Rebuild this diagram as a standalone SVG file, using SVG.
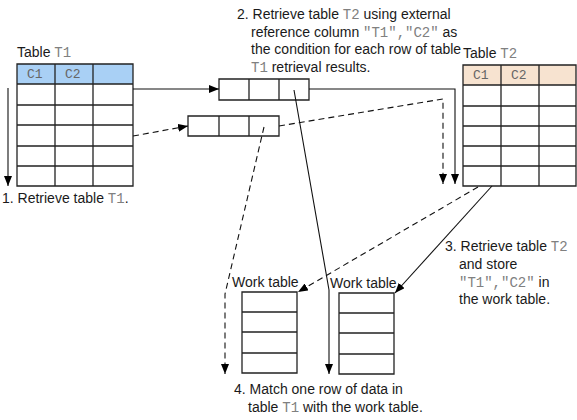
<svg xmlns="http://www.w3.org/2000/svg" width="577" height="420" viewBox="0 0 577 420">
<style>
text{font-family:"Liberation Sans",Arial,sans-serif;font-size:14px;fill:#1a1a1a}
.m{font-family:"Liberation Mono","Courier New",monospace;fill:#808080}
.h{font-family:"Liberation Mono","Courier New",monospace;font-size:13px;fill:#666}
.g{fill:none;stroke:#222;stroke-width:1.3}
.c{fill:none;stroke:#111;stroke-width:1.1}
.d{stroke-dasharray:6,4}
</style>
<defs>
<marker id="a" viewBox="0 0 10 10" refX="10" refY="5" markerWidth="10" markerHeight="8" markerUnits="userSpaceOnUse" orient="auto" preserveAspectRatio="none"><path d="M0,0L10,5L0,10z" fill="#000"/></marker>
</defs>
<g id="t1">
<text x="17" y="57">Table <tspan class="m">T1</tspan></text>
<rect x="17" y="64" width="116" height="20" fill="#a9d0f5"/>
<text class="h" x="27" y="78">C1</text><text class="h" x="65" y="78">C2</text>
<path class="g" d="M17,64H133V186H17Z M17,84H133 M17,105H133 M17,125H133 M17,146H133 M17,166H133 M55,64V186 M93,64V186"/>
</g>
<g id="t2">
<text x="463" y="58">Table <tspan class="m">T2</tspan></text>
<rect x="463" y="65" width="113" height="20" fill="#f7e3d0"/>
<text class="h" x="473" y="79">C1</text><text class="h" x="511" y="79">C2</text>
<path class="g" d="M463,65H576V186H463Z M463,85H576 M463,106H576 M463,126H576 M463,146H576 M463,166H576 M501,65V186 M539,65V186"/>
</g>
<g id="row1">
<path class="g" d="M219,79H309V100H219Z M249,79V100 M279,79V100"/>
</g>
<g id="row2">
<path class="g" d="M188,116H279V136H188Z M219,116V136 M249,116V136"/>
</g>
<g id="work1">
<text x="232" y="287">Work table</text>
<path class="g" d="M242,292H297V373H242Z M242,312H297 M242,332H297 M242,353H297"/>
</g>
<g id="work2">
<text x="330" y="288">Work table</text>
<path class="g" d="M339,293H394V374H339Z M339,313H394 M339,333H394 M339,354H394"/>
</g>
<g id="connectors">
<path class="c" d="M8,88V186" marker-end="url(#a)"/>
<path class="c" d="M133,89H219" marker-end="url(#a)"/>
<path class="c d" d="M133,136L188,126" marker-end="url(#a)"/>
<path class="c" d="M309,89H455V184" marker-end="url(#a)"/>
<path class="c d" d="M279,126L443,99V184" marker-end="url(#a)"/>
<path class="c" d="M294,90L329,290V374" marker-end="url(#a)"/>
<path class="c d" d="M264,127L225,294V374" marker-end="url(#a)"/>
<path class="c d" d="M478,187L298,292" marker-end="url(#a)"/>
<path class="c" d="M492,186L395,293" marker-end="url(#a)"/>
</g>
<g id="labels">
<text x="2" y="203">1. Retrieve table <tspan class="m">T1</tspan>.</text>
<text x="237" y="19">2. Retrieve table <tspan class="m">T2</tspan> using external</text>
<text x="251" y="36.5">reference column <tspan class="m">"T1","C2"</tspan> as</text>
<text x="251" y="54">the condition for each row of table</text>
<text x="251" y="71.5"><tspan class="m">T1</tspan> retrieval results.</text>
<text x="445" y="251">3. Retrieve table <tspan class="m">T2</tspan></text>
<text x="459" y="269">and store</text>
<text x="459" y="286.5"><tspan class="m">"T1","C2"</tspan> in</text>
<text x="459" y="304">the work table.</text>
<text x="234" y="394">4. Match one row of data in</text>
<text x="248" y="412">table <tspan class="m">T1</tspan> with the work table.</text>
</g>
</svg>
